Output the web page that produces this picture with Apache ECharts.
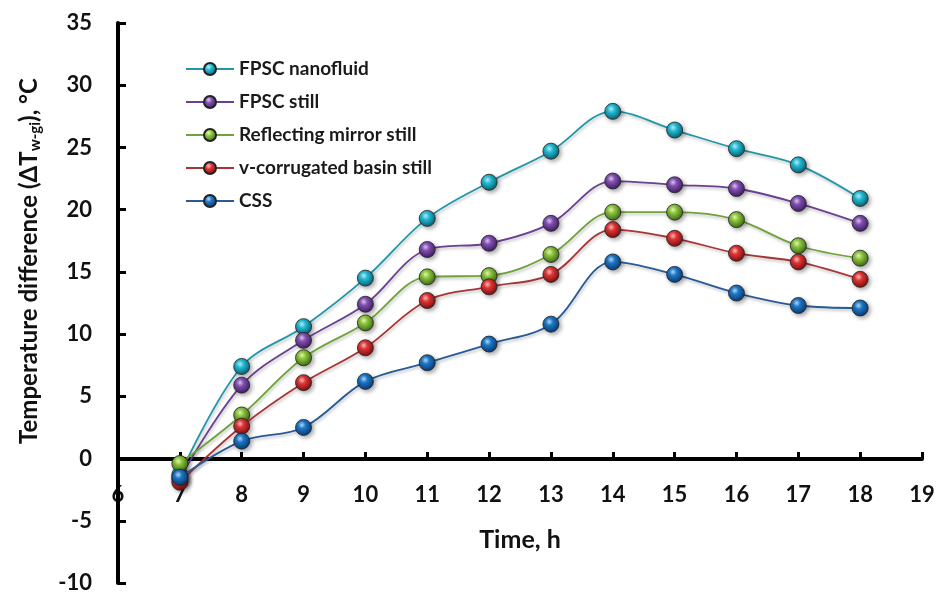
<!DOCTYPE html>
<html><head><meta charset="utf-8">
<script src="https://cdn.jsdelivr.net/npm/echarts@6/dist/echarts.min.js"></script>
<style>html,body{margin:0;padding:0;background:#fff}#c{width:940px;height:593px}</style>
</head><body><div id="c"></div>
<script>
const hours = [7, 8, 9, 10, 11, 12, 13, 14, 15, 16, 17, 18];
const fpscNanofluid = [-1.3, 7.4, 10.6, 14.5, 19.3, 22.2, 24.7, 27.9, 26.4, 24.9, 23.6, 20.9];
const fpscStill     = [-1.6, 5.9, 9.5, 12.4, 16.8, 17.3, 18.9, 22.3, 22.0, 21.7, 20.5, 18.9];
const mirrorStill   = [-0.4, 3.5, 8.1, 10.9, 14.6, 14.7, 16.4, 19.8, 19.8, 19.2, 17.1, 16.1];
const vBasinStill   = [-1.9, 2.6, 6.1, 8.9, 12.7, 13.8, 14.8, 18.4, 17.7, 16.5, 15.8, 14.4];
const css           = [-1.5, 1.4, 2.5, 6.2, 7.7, 9.2, 10.8, 15.8, 14.8, 13.3, 12.3, 12.1];
const seriesNames = ['FPSC nanofluid', 'FPSC still', 'Reflecting mirror still', 'v-corrugated basin still', 'CSS'];
const xTicks = [6, 19, 1];
const yTicks = [-10, 35, 5];

const styles = [
  {line: '#1f97a8', light: '#b8f4ff', base: '#22bcd6', dark: '#0b5f70'},
  {line: '#6a4090', light: '#e0c8f5', base: '#8350b5', dark: '#3c1f5c'},
  {line: '#6fa23a', light: '#e9ffb0', base: '#8cc63f', dark: '#3f6a12'},
  {line: '#a83434', light: '#ffc0c0', base: '#e23434', dark: '#7a1010'},
  {line: '#285a96', light: '#b8dcff', base: '#1c78c8', dark: '#0b3a70'}
];
const allData = [fpscNanofluid, fpscStill, mirrorStill, vBasinStill, css];
const font = 'Lato, "Open Sans", sans-serif';
const labelStyle = {fontFamily: font, fontWeight: 'bold', fontSize: 22, color: '#111'};

// plot area: top 23, bottom 583 (y=-10); zero line at y=459
const chart = echarts.init(document.getElementById('c'));
chart.setOption({
  animation: false,
  backgroundColor: '#fff',
  grid: [
    {left: 118, right: 18, top: 23, bottom: 10, containLabel: false, outerBoundsMode: 'none'},
    {left: 118, right: 18, top: 23, bottom: 134, containLabel: false, outerBoundsMode: 'none'}
  ],
  legend: {
    orient: 'vertical', left: 185, top: 59.5, itemGap: 14, padding: 0,
    itemWidth: 48, itemHeight: 15,
    textStyle: {fontFamily: font, fontWeight: 'bold', fontSize: 19, color: '#1a1a1a'},
    data: seriesNames
  },
  xAxis: [{
    gridIndex: 0, type: 'value', min: xTicks[0], max: xTicks[1], interval: xTicks[2],
    show: false
  }, {
    gridIndex: 1, type: 'value', min: xTicks[0], max: xTicks[1], interval: xTicks[2],
    position: 'bottom',
    name: 'Time, h', nameLocation: 'middle', nameGap: 68,
    nameTextStyle: {fontFamily: font, fontWeight: 'bold', fontSize: 25, color: '#111'},
    axisLine: {onZero: false, lineStyle: {color: '#000', width: 4}},
    axisTick: {inside: true, length: 7, lineStyle: {color: '#000', width: 3}},
    axisLabel: Object.assign({margin: 25}, labelStyle),
    splitLine: {show: false}
  }],
  yAxis: [{
    gridIndex: 0, type: 'value', min: yTicks[0], max: yTicks[1], interval: yTicks[2],
    axisLine: {show: true, onZero: false, lineStyle: {color: '#000', width: 4}},
    axisTick: {show: true, inside: true, length: 8, lineStyle: {color: '#000', width: 3}},
    axisLabel: Object.assign({margin: 26}, labelStyle),
    splitLine: {show: false}, z: 3
  }, {
    gridIndex: 1, type: 'value', min: 0, max: yTicks[1], show: false
  }],
  graphic: [{
    type: 'text', x: 29, y: 261, rotation: Math.PI / 2,
    style: {
      text: 'Temperature difference (ΔT{sub|w-gi}), °C',
      fontFamily: font, fontWeight: 'bold', fontSize: 24, fill: '#111',
      align: 'center', verticalAlign: 'middle',
      rich: {sub: {fontFamily: font, fontWeight: 'bold', fontSize: 15, fill: '#111', padding: [12, 0, 0, 0]}}
    }
  }],
  series: allData.map((d, i) => ({
    name: seriesNames[i], type: 'line', smooth: 0.35,
    xAxisIndex: 0, yAxisIndex: 0,
    data: hours.map((h, j) => [h, d[j]]),
    symbol: 'circle', symbolSize: 16,
    lineStyle: {color: styles[i].line, width: 1.8, shadowBlur: 3, shadowColor: 'rgba(0,0,0,0.25)', shadowOffsetX: 1, shadowOffsetY: 2},
    itemStyle: {
      color: {type: 'radial', x: 0.4, y: 0.35, r: 0.65, colorStops: [
        {offset: 0, color: styles[i].light}, {offset: 0.35, color: styles[i].base}, {offset: 1, color: styles[i].dark}]},
      borderColor: '#222', borderWidth: 0.8,
      shadowBlur: 4, shadowColor: 'rgba(0,0,0,0.35)', shadowOffsetX: 2, shadowOffsetY: 2
    },
    z: 4 + i
  }))
});
</script></body></html>
